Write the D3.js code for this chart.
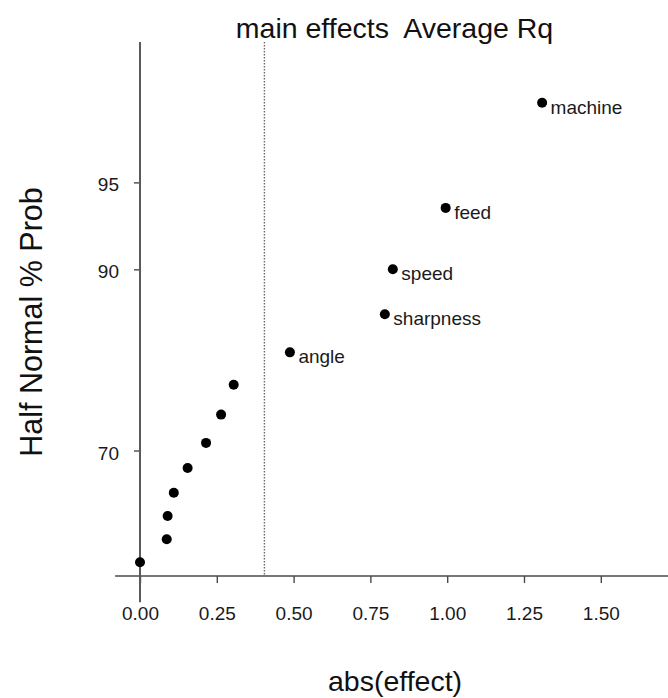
<!DOCTYPE html>
<html>
<head>
<meta charset="utf-8">
<script src="https://cdn.jsdelivr.net/npm/d3@7"></script>
<style>
  html, body { margin: 0; padding: 0; background: #fff; }
  svg { display: block; font-family: "Liberation Sans", Arial, Helvetica, sans-serif; }
</style>
</head>
<body>
<svg id="chart" width="668" height="698"></svg>
<script>
// ---- data ----
const effectLabels = ["", "", "", "", "", "", "", "", "angle", "sharpness", "speed", "feed", "machine"];
const absEffect   = [0.000, 0.087, 0.090, 0.110, 0.155, 0.215, 0.264, 0.305, 0.488, 0.797, 0.823, 0.995, 1.309];
const probPct     = [52.3, 56.1, 59.9, 63.6, 67.4, 71.1, 75.0, 78.8, 82.5, 86.3, 90.0, 93.8, 97.6];
const xTicks      = [0, 0.25, 0.5, 0.75, 1.0, 1.25, 1.5];
const yTicks      = [70, 90, 95];
const threshold   = 0.405;
const titleText   = "main effects  Average Rq";
const xTitle      = "abs(effect)";
const yTitle      = "Half Normal % Prob";

// inverse standard normal CDF (Acklam)
function qnorm(p) {
  const a = [-3.969683028665376e+01, 2.209460984245205e+02, -2.759285104469687e+02, 1.383577518672690e+02, -3.066479806614716e+01, 2.506628277459239e+00];
  const b = [-5.447609879822406e+01, 1.615858368580409e+02, -1.556989798598866e+02, 6.680131188771972e+01, -1.328068155288572e+01];
  const c = [-7.784894002430293e-03, -3.223964580411365e-01, -2.400758277161838e+00, -2.549732539343734e+00, 4.374664141464968e+00, 2.938163982698783e+00];
  const d = [7.784695709041462e-03, 3.224671290700398e-01, 2.445134137142996e+00, 3.754408661907416e+00];
  const pl = 0.02425, ph = 1 - pl;
  let q, r;
  if (p < pl) {
    q = Math.sqrt(-2 * Math.log(p));
    return (((((c[0]*q+c[1])*q+c[2])*q+c[3])*q+c[4])*q+c[5]) / ((((d[0]*q+d[1])*q+d[2])*q+d[3])*q+1);
  } else if (p <= ph) {
    q = p - 0.5; r = q * q;
    return (((((a[0]*r+a[1])*r+a[2])*r+a[3])*r+a[4])*r+a[5])*q / (((((b[0]*r+b[1])*r+b[2])*r+b[3])*r+b[4])*r+1);
  } else {
    q = Math.sqrt(-2 * Math.log(1 - p));
    return -(((((c[0]*q+c[1])*q+c[2])*q+c[3])*q+c[4])*q+c[5]) / ((((d[0]*q+d[1])*q+d[2])*q+d[3])*q+1);
  }
}

const data = absEffect.map((v, i) => ({ x: v, p: probPct[i], label: effectLabels[i] }));

const svg = d3.select("#chart");
const x = d3.scaleLinear().domain([0, 1.5]).range([140, 600.8]);
const yz = d3.scaleLinear().domain([0, 2]).range([576, 97.4]);
const y = p => yz(qnorm(p / 100));

const axisColor = "#4a4a4a";
const textColor = "#1a1a1a";

// threshold dotted line
svg.append("line")
  .attr("x1", x(threshold)).attr("x2", x(threshold))
  .attr("y1", yz(2.232)).attr("y2", yz(0))
  .attr("stroke", "#6a6a6a").attr("stroke-width", 1.4)
  .attr("stroke-dasharray", "1.5,1.5");

// x axis
const gx = svg.append("g").attr("transform", `translate(0,${yz(0)})`)
  .call(d3.axisBottom(x).tickValues(xTicks).tickFormat(d3.format(".2f")).tickSize(7).tickPadding(24));
gx.select(".domain").remove();
gx.selectAll(".tick line").attr("stroke", axisColor).attr("stroke-width", 1.4);
gx.selectAll(".tick text").attr("fill", textColor).style("font-size", "19px")
  .style("font-family", "'Liberation Sans', Arial, sans-serif");
svg.append("line")
  .attr("x1", x(-0.081)).attr("x2", x(1.72))
  .attr("y1", yz(0)).attr("y2", yz(0))
  .attr("stroke", axisColor).attr("stroke-width", 1.6);

// y axis
const gy = svg.append("g").attr("transform", `translate(${x(0)},0)`)
  .call(d3.axisLeft(yz).tickValues(yTicks.map(t => qnorm(t / 100)))
    .tickFormat((d, i) => String(yTicks[i])).tickSize(6).tickPadding(15));
gy.select(".domain").remove();
gy.selectAll(".tick line").attr("stroke", axisColor).attr("stroke-width", 1.4);
gy.selectAll(".tick text").attr("fill", textColor).style("font-size", "19px")
  .attr("dy", "0.45em")
  .style("font-family", "'Liberation Sans', Arial, sans-serif");
svg.append("line")
  .attr("x1", x(0)).attr("x2", x(0))
  .attr("y1", yz(2.232)).attr("y2", yz(-0.11))
  .attr("stroke", "#5a5a5a").attr("stroke-width", 2);

// points
svg.append("g").selectAll("circle").data(data).join("circle")
  .attr("cx", d => x(d.x)).attr("cy", d => y(d.p))
  .attr("r", 5).attr("fill", "#000");

// labels
svg.append("g").selectAll("text").data(data.filter(d => d.label)).join("text")
  .attr("x", d => x(d.x) + 8.5).attr("y", d => y(d.p) + 11)
  .attr("fill", textColor).style("font-size", "19px")
  .text(d => d.label);

// titles
svg.append("text").attr("x", 394.5).attr("y", 38).attr("text-anchor", "middle")
  .attr("fill", "#111").style("font-size", "28.5px").style("white-space", "pre")
  .attr("xml:space", "preserve").text(titleText);
svg.append("text").attr("x", 395).attr("y", 691).attr("text-anchor", "middle")
  .attr("fill", "#111").style("font-size", "28.5px").text(xTitle);
svg.append("text").attr("transform", "translate(42,322) rotate(-90)").attr("text-anchor", "middle")
  .attr("fill", "#111").style("font-size", "30.5px").text(yTitle);
</script>
</body>
</html>
